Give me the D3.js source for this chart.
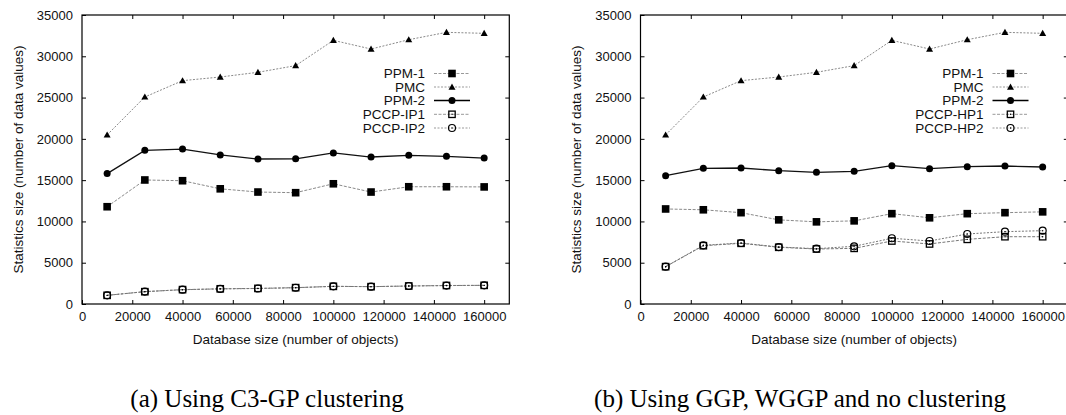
<!DOCTYPE html>
<html>
<head>
<meta charset="utf-8">
<script src="https://cdn.jsdelivr.net/npm/d3@7"></script>
<style>
  html, body { margin: 0; padding: 0; background: #fff; }
  svg { display: block; }
  text { font-family: "Liberation Sans", Arial, sans-serif; fill: #111; }
  .caption { font-family: "Liberation Serif", "Times New Roman", serif; fill: #000; }
</style>
</head>
<body>
<svg id="chart" width="1066" height="415"></svg>
<script>
// Database sizes (number of objects) at which statistics were measured
const sizes = [10000, 25000, 40000, 55000, 70000, 85000, 100000, 115000, 130000, 145000, 160000];

// Panel (a): C3-GP clustering
const ppm1A = [11780, 15020, 14930, 13950, 13560, 13480, 14560, 13560, 14200, 14200, 14180];
const pmcA  = [20480, 25070, 27050, 27490, 28060, 28870, 31930, 30880, 32010, 32900, 32780];
const ppm2A = [15790, 18610, 18760, 18050, 17560, 17580, 18290, 17800, 18010, 17880, 17670];
const ip1A  = [1050, 1490, 1740, 1840, 1890, 1980, 2140, 2100, 2180, 2240, 2260];
const ip2A  = [1050, 1500, 1730, 1830, 1880, 1970, 2140, 2100, 2180, 2230, 2260];

// Panel (b): GGP, WGGP and no clustering
const ppm1B = [11510, 11410, 11060, 10190, 9950, 10070, 10940, 10440, 10940, 11060, 11160];
const pmcB  = [20480, 25070, 27050, 27490, 28060, 28870, 31930, 30880, 32010, 32900, 32780];
const ppm2B = [15540, 16430, 16470, 16150, 15950, 16070, 16750, 16390, 16630, 16710, 16590];
const hp1B  = [4520, 7060, 7350, 6870, 6660, 6740, 7630, 7270, 7830, 8150, 8150];
const hp2B  = [4520, 7110, 7390, 6900, 6700, 6990, 7960, 7630, 8480, 8760, 8880];

// Axis ticks
const xTicks = [0, 20000, 40000, 60000, 80000, 100000, 120000, 140000, 160000];
const yTicks = [0, 5000, 10000, 15000, 20000, 25000, 30000, 35000];

const namesA = ["PPM-1", "PMC", "PPM-2", "PCCP-IP1", "PCCP-IP2"];
const namesB = ["PPM-1", "PMC", "PPM-2", "PCCP-HP1", "PCCP-HP2"];

const captionA = "(a) Using C3-GP clustering";
const captionB = "(b) Using GGP, WGGP and no clustering";

const xTitle = "Database size (number of objects)";
const yTitle = "Statistics size (number of data values)";

// line / marker styles per series position
const styles = [
  { marker: "fsquare",  stroke: "#8a8a8a", dash: "3,1.5", width: 1 },
  { marker: "triangle", stroke: "#8a8a8a", dash: "2,1.5", width: 1 },
  { marker: "fcircle",  stroke: "#111",    dash: null,    width: 1.3 },
  { marker: "osquare",  stroke: "#777",    dash: "3,1.5", width: 1 },
  { marker: "ocircle",  stroke: "#777",    dash: "2,1.5", width: 1 }
];

const svg = d3.select("#chart");

function drawMarker(g, type, cx, cy) {
  if (type === "fsquare") {
    g.append("rect").attr("x", cx - 3.8).attr("y", cy - 3.8)
      .attr("width", 7.6).attr("height", 7.6).attr("fill", "#000");
  } else if (type === "triangle") {
    const s = 3.5;
    g.append("path")
      .attr("d", `M${cx},${cy - s}L${cx + s},${cy + s * 0.75}L${cx - s},${cy + s * 0.75}Z`)
      .attr("fill", "#000");
  } else if (type === "fcircle") {
    g.append("circle").attr("cx", cx).attr("cy", cy).attr("r", 3.5).attr("fill", "#000");
  } else if (type === "osquare") {
    g.append("rect").attr("x", cx - 3.2).attr("y", cy - 3.2)
      .attr("width", 6.4).attr("height", 6.4)
      .attr("fill", "none").attr("stroke", "#000").attr("stroke-width", 1.3);
    g.append("circle").attr("cx", cx).attr("cy", cy).attr("r", 0.7).attr("fill", "#000");
  } else if (type === "ocircle") {
    g.append("circle").attr("cx", cx).attr("cy", cy).attr("r", 3.5)
      .attr("fill", "none").attr("stroke", "#000").attr("stroke-width", 1.2);
    g.append("circle").attr("cx", cx).attr("cy", cy).attr("r", 0.7).attr("fill", "#000");
  }
}

function drawPanel(x0, seriesList, names, caption, captionX) {
  const x = d3.scaleLinear().domain([0, 170000]).range([x0, x0 + 427.3]);
  const y = d3.scaleLinear().domain([0, 35000]).range([304, 15]);
  const g = svg.append("g");

  // frame
  g.append("rect")
    .attr("x", x(0)).attr("y", y(35000))
    .attr("width", x(170000) - x(0)).attr("height", y(0) - y(35000))
    .attr("fill", "none").attr("stroke", "#000").attr("stroke-width", 1.2);

  // x axis (ticks inward, mirrored on top)
  const xAxis = d3.axisBottom(x).tickValues(xTicks).tickSize(-4).tickPadding(10)
    .tickFormat(d3.format("d"));
  const gx = g.append("g").attr("transform", `translate(0,${y(0)})`).call(xAxis);
  gx.select(".domain").remove();
  gx.selectAll("text").attr("font-size", 13).attr("dy", "0.71em").attr("y", 8);
  const xTop = d3.axisTop(x).tickValues(xTicks.slice(1)).tickSize(-4).tickFormat("");
  const gxt = g.append("g").attr("transform", `translate(0,${y(35000)})`).call(xTop);
  gxt.select(".domain").remove();

  // y axis (ticks inward, mirrored on right)
  const yAxis = d3.axisLeft(y).tickValues(yTicks).tickSize(-4).tickPadding(9)
    .tickFormat(d3.format("d"));
  const gy = g.append("g").attr("transform", `translate(${x(0)},0)`).call(yAxis);
  gy.select(".domain").remove();
  gy.selectAll("text").attr("font-size", 13);
  const yRight = d3.axisRight(y).tickValues(yTicks.slice(1, -1)).tickSize(-4).tickFormat("");
  const gyr = g.append("g").attr("transform", `translate(${x(170000)},0)`).call(yRight);
  gyr.select(".domain").remove();
  g.selectAll(".tick line").attr("stroke", "#000").attr("stroke-width", 1);

  // axis titles
  g.append("text")
    .attr("x", (x(0) + x(170000)) / 2).attr("y", 344)
    .attr("text-anchor", "middle").attr("font-size", 13.5).text(xTitle);
  g.append("text")
    .attr("transform", `translate(${x0 - 64},${(y(0) + y(35000)) / 2}) rotate(-90)`)
    .attr("text-anchor", "middle").attr("dy", "0.35em").attr("font-size", 13.5).text(yTitle);

  // series lines and markers
  const line = d3.line().x((d, i) => x(sizes[i])).y(d => y(d));
  seriesList.forEach((vals, k) => {
    const st = styles[k];
    g.append("path").datum(vals).attr("d", line)
      .attr("fill", "none").attr("stroke", st.stroke)
      .attr("stroke-width", st.width)
      .attr("stroke-dasharray", st.dash);
  });
  seriesList.forEach((vals, k) => {
    const mg = g.append("g");
    vals.forEach((v, i) => drawMarker(mg, styles[k].marker, x(sizes[i]), y(v)));
  });

  // legend
  const legY = [73.5, 87, 100.5, 114.3, 128];
  names.forEach((name, k) => {
    const st = styles[k];
    const ly = legY[k];
    g.append("text").attr("x", x0 + 343).attr("y", ly).attr("dy", "0.36em")
      .attr("text-anchor", "end").attr("font-size", 13.5).text(name);
    g.append("line")
      .attr("x1", x0 + 352).attr("x2", x0 + 388).attr("y1", ly).attr("y2", ly)
      .attr("stroke", k === 2 ? "#000" : "#999").attr("stroke-width", st.width)
      .attr("stroke-dasharray", st.dash);
    drawMarker(g, st.marker, x0 + 370, ly);
  });

  // caption
  svg.append("text").attr("class", "caption")
    .attr("x", captionX).attr("y", 407)
    .attr("text-anchor", "middle").attr("font-size", 25).text(caption);
}

drawPanel(82, [ppm1A, pmcA, ppm2A, ip1A, ip2A], namesA, captionA, 267);
drawPanel(640.5, [ppm1B, pmcB, ppm2B, hp1B, hp2B], namesB, captionB, 800);
</script>
</body>
</html>
